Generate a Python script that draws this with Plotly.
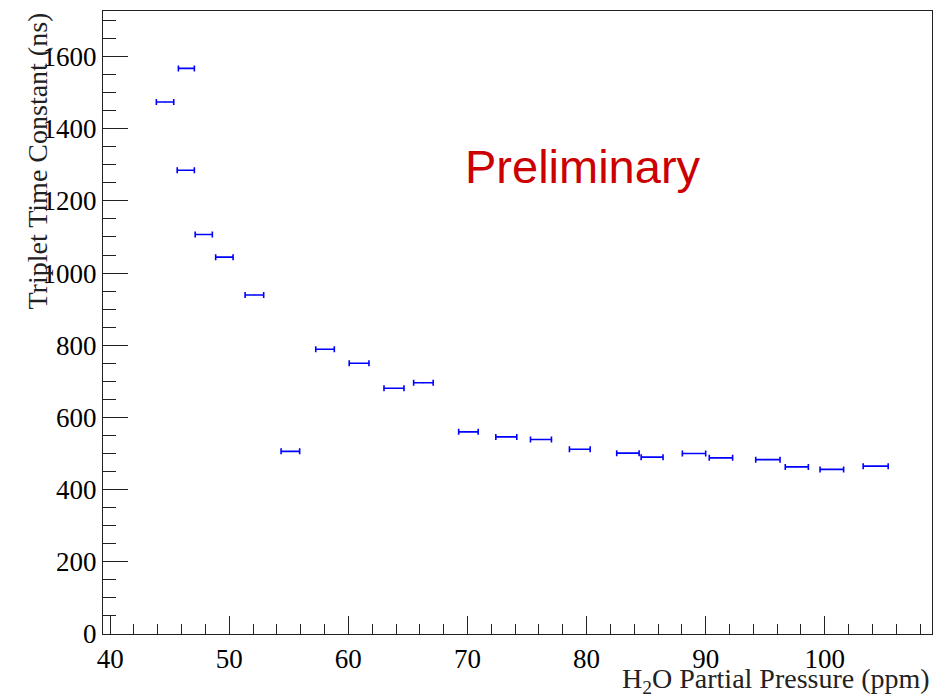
import plotly.graph_objects as go

# H2O partial pressure (ppm) and triplet time constant (ns)
pressure = [44.61, 46.40, 46.35, 47.86, 49.59, 52.11, 55.13, 58.04, 60.90, 63.83, 66.30,
            70.08, 73.26, 76.17, 79.43, 83.47, 85.50, 89.02, 91.28, 95.22, 97.65, 100.59, 104.27]
tau = [1474, 1567, 1285, 1107, 1044, 939, 506, 789, 750, 681, 696,
       560, 546, 539, 512, 501, 490, 500, 488, 483, 463, 456, 465]
pressure_err = [0.73, 0.67, 0.72, 0.72, 0.73, 0.78, 0.78, 0.78, 0.83, 0.84, 0.82,
                0.82, 0.88, 0.88, 0.87, 0.94, 0.92, 0.98, 0.98, 1.02, 0.97, 0.99, 1.05]

x_ticks = [40, 50, 60, 70, 80, 90, 100]
y_ticks = [0, 200, 400, 600, 800, 1000, 1200, 1400, 1600]

serif = "Liberation Serif, Times New Roman, serif"

fig = go.Figure()
fig.add_trace(go.Scatter(
    x=pressure, y=tau, mode="markers",
    marker=dict(size=1, color="#0000ff"),
    error_x=dict(type="data", array=pressure_err, visible=True,
                 color="#0000ff", thickness=1.6, width=3),
    showlegend=False, hoverinfo="x+y",
))

# page body has an 8px margin, so the figure is 8px smaller and shifted
fig.update_layout(
    width=938, height=690,
    margin=dict(l=95, r=14, t=3, b=64),
    paper_bgcolor="white", plot_bgcolor="white",
    font=dict(family=serif, size=26, color="black"),
    xaxis=dict(range=[39.4, 109.0], tickvals=x_ticks, ticks="inside", ticklen=18,
               tickwidth=1, tickcolor="#222", showline=True, linecolor="#222",
               linewidth=1.2, mirror=True, showgrid=False, zeroline=False,
               tickfont=dict(family=serif, size=27, color="black"),
               minor=dict(dtick=2, tick0=40, ticks="inside", ticklen=10,
                          tickcolor="#222", tickwidth=1, showgrid=False)),
    yaxis=dict(range=[0, 1726], tickvals=y_ticks, ticks="inside", ticklen=25,
               tickwidth=1, tickcolor="#222", showline=True, linecolor="#222",
               linewidth=1.2, mirror=True, showgrid=False, zeroline=False,
               tickfont=dict(family=serif, size=27, color="black"),
               minor=dict(dtick=50, tick0=0, ticks="inside", ticklen=13,
                          tickcolor="#222", tickwidth=1, showgrid=False)),
)

fig.add_annotation(text="Triplet Time Constant (ns)", xref="paper", yref="paper",
                   x=0, y=1, xanchor="center", yanchor="top", xshift=-66,
                   textangle=-90, showarrow=False,
                   font=dict(family=serif, size=28, color="#222"))
fig.add_annotation(text="H<sub>2</sub>O Partial Pressure (ppm)", xref="paper", yref="paper",
                   x=1, y=0, xanchor="right", yanchor="top", yshift=-27,
                   showarrow=False, font=dict(family=serif, size=28, color="#222"))
fig.add_annotation(text="Preliminary", xref="x", yref="y", x=79.7, y=1295,
                   xanchor="center", yanchor="middle", showarrow=False,
                   font=dict(family="Liberation Sans, Arial, sans-serif", size=47, color="#cc0000"))

fig.write_html("out.html")
